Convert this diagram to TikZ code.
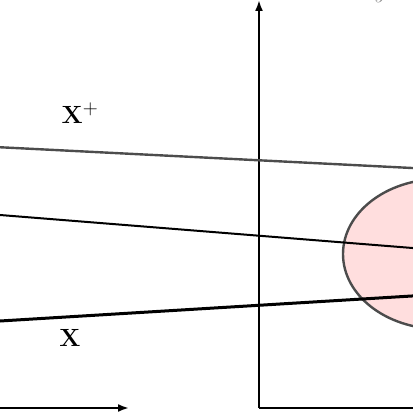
\documentclass[tikz,border=0pt]{standalone}
\usepackage{amsmath}
\usetikzlibrary{arrows.meta}
\begin{document}
\begin{tikzpicture}[x=1pt,y=-1pt,
  axis/.style={line width=2pt,-{Latex[length=11pt,width=8pt]}},
  plainaxis/.style={line width=2pt},
  grayline/.style={line width=2.4pt,draw=black!70},
  thinline/.style={line width=2pt,draw=black},
  thickline/.style={line width=3pt,draw=black},
  region/.style={fill=red!13,draw=black!70,line width=2.4pt},
  lab/.style={font=\fontsize{28}{30}\selectfont,inner sep=0pt}]
\useasboundingbox (0,0) rectangle (412,412);
% ellipse region
\draw[region] (440,254) ellipse [x radius=97, y radius=75];
% axes
\coordinate (o) at (259,408);
\coordinate (ytop) at (259,0);
\coordinate (xr) at (420,408);
\draw[axis] (o) -- (ytop);
\draw[plainaxis] (o) -- (xr);
\coordinate (la) at (-5,408);
\coordinate (lb) at (129,408);
\draw[axis] (la) -- (lb);
% lines
\coordinate (a1) at (-5,147);
\coordinate (a2) at (420,168.4);
\coordinate (b1) at (-5,214.6);
\coordinate (b2) at (420,248.6);
\coordinate (c1) at (-5,321.3);
\coordinate (c2) at (420,295.5);
\draw[grayline] (a1) -- (a2);
\draw[thinline] (b1) -- (b2);
\draw[thickline] (c1) -- (c2);
% labels
\node[lab] (xp) at (80,113) {$\mathbf{X}^{+}$};
\node[lab] (x) at (70,338) {$\mathbf{X}$};
\node[lab,text=black!45,anchor=base] (tl) at (372,-3) {$\mathcal{F}_J$};
\end{tikzpicture}
\end{document}
